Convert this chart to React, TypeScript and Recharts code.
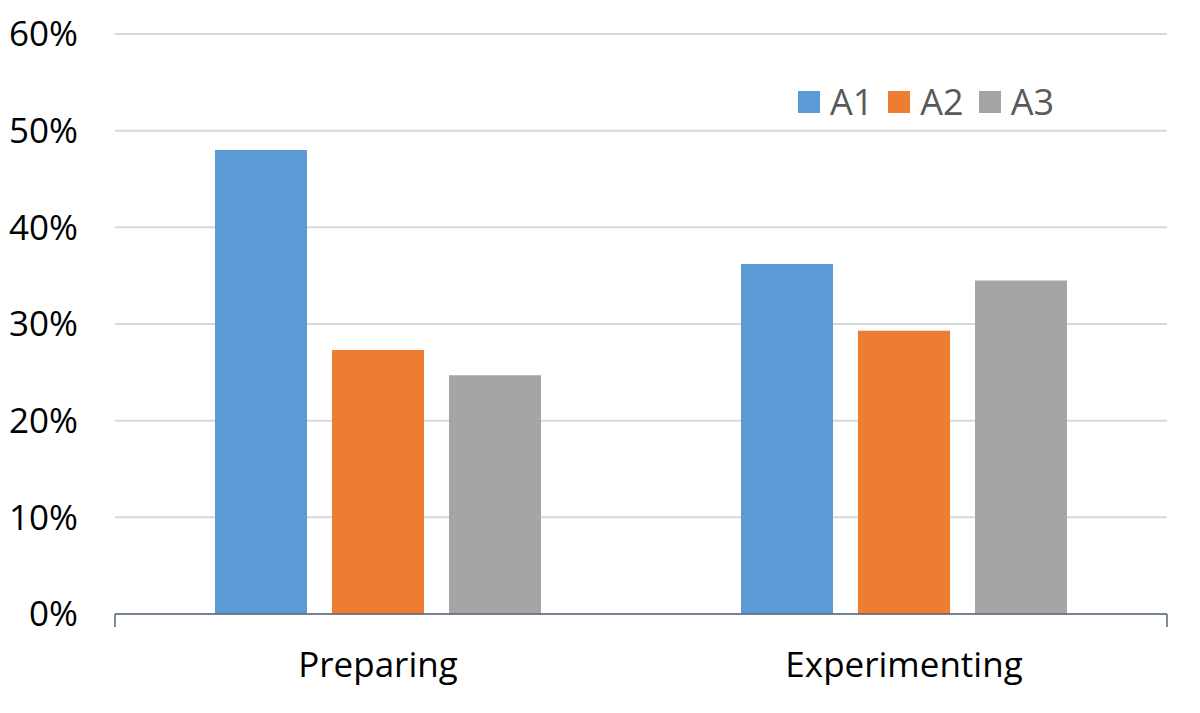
import { BarChart, Bar, XAxis, YAxis, CartesianGrid, Legend } from 'recharts';

const categories = ['Preparing', 'Experimenting'];
const a1Values = [48.0, 36.2];
const a2Values = [27.3, 29.3];
const a3Values = [24.7, 34.5];
const yTicks = [0, 10, 20, 30, 40, 50, 60];
const edgeTicks = [0, 1, 2];

const series = [
  { key: 'A1', color: '#5B9BD5' },
  { key: 'A2', color: '#ED7D31' },
  { key: 'A3', color: '#A5A5A5' },
];

const data = categories.map((name, i) => ({
  name,
  A1: a1Values[i],
  A2: a2Values[i],
  A3: a3Values[i],
}));

const FONT = "'Open Sans', sans-serif";
const AXIS_COLOR = '#56657A';

const renderLegend = (props: any) => (
  <div style={{ display: 'flex', alignItems: 'center', fontFamily: FONT, fontSize: 36, color: '#595959' }}>
    {(props.payload || []).map((entry: any) => (
      <div key={entry.value} style={{ display: 'flex', alignItems: 'center', marginRight: 15 }}>
        <span style={{ display: 'inline-block', width: 22, height: 22, background: entry.color, marginRight: 10 }} />
        <span style={{ lineHeight: '44px' }}>{entry.value}</span>
      </div>
    ))}
  </div>
);

// empty tick so only the boundary tick marks show
const NoLabel = () => <g />;

export default function App() {
  return (
    <div style={{ position: 'absolute', left: 0, top: 0, width: 1200, height: 713, background: '#fff' }}>
      <BarChart
        width={1200}
        height={713}
        data={data}
        margin={{ top: 34, right: 33, left: 0, bottom: 0 }}
        barSize={92}
        barGap={25}
      >
        <CartesianGrid horizontal vertical={false} stroke="#D9D9D9" strokeWidth={2} />
        <XAxis
          xAxisId={0}
          type="number"
          domain={[0, 2]}
          ticks={edgeTicks}
          tick={NoLabel}
          height={1}
          tickSize={13}
          axisLine={{ stroke: AXIS_COLOR, strokeWidth: 1.5 }}
          tickLine={{ stroke: AXIS_COLOR, strokeWidth: 1.5 }}
        />
        <XAxis
          xAxisId={1}
          dataKey="name"
          height={98}
          axisLine={false}
          tickLine={false}
          tickSize={0}
          tickMargin={37}
          tick={{ fontFamily: FONT, fontSize: 35, fill: '#000' }}
        />
        <YAxis
          domain={[0, 60]}
          ticks={yTicks}
          width={115}
          axisLine={false}
          tickLine={false}
          tickSize={0}
          tickMargin={37}
          tickFormatter={(v: number) => `${v}%`}
          tick={{ fontFamily: FONT, fontSize: 35, fill: '#000' }}
        />
        <Legend
          layout="horizontal"
          verticalAlign="middle"
          align="center"
          content={renderLegend}
          wrapperStyle={{ left: 798, top: 80, width: 'auto', height: 'auto' }}
        />
        {series.map((s) => (
          <Bar key={s.key} xAxisId={1} dataKey={s.key} fill={s.color} isAnimationActive={false} />
        ))}
      </BarChart>
    </div>
  );
}
